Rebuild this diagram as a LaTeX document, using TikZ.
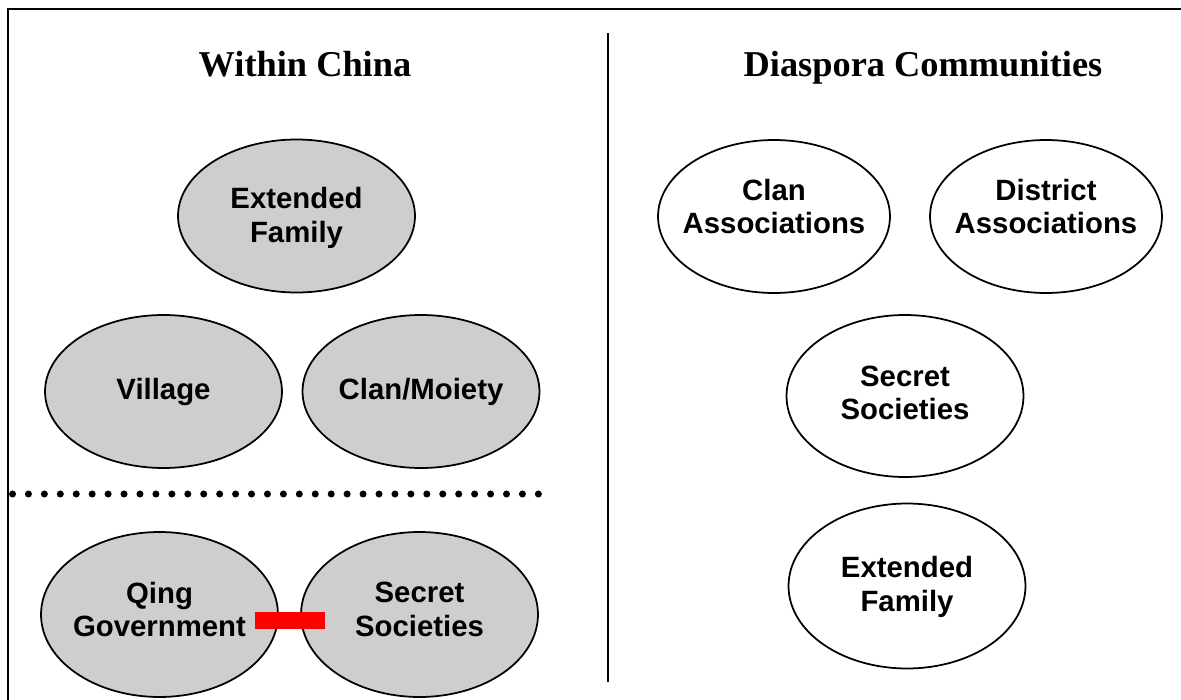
\documentclass[tikz,border=0pt]{standalone}
\usepackage{fontspec}
\setmainfont{Liberation Serif}
\newfontfamily\arialf{Liberation Sans}
\usetikzlibrary{shapes.geometric}
\definecolor{ellgray}{RGB}{206,206,206}
\begin{document}
\begin{tikzpicture}[x=0.02cm,y=-0.02cm,
  ell/.style={ellipse, draw=black, line width=1pt, inner sep=0pt,
    minimum width=4.74cm, minimum height=3.06cm},
  inside/.style={ell, fill=ellgray},
  outside/.style={ell, fill=white},
  ltext/.style={align=center, inner sep=0pt,
    font=\arialf\bfseries\fontsize{16.7}{19}\selectfont},
  title/.style={anchor=base, inner sep=0pt,
    font=\bfseries\fontsize{20.7}{24}\selectfont},
  frame/.style={line width=1.5pt},
  redbar/.style={draw=red, line width=9.4pt, line cap=butt},
  dotline/.style={line width=4pt, line cap=round, dash pattern=on 0pt off 9.07pt}]
\useasboundingbox (0,0) rectangle (1181,700);
% frame and divider
\coordinate (tr) at (1181,9);
\coordinate (tl) at (8,9);
\coordinate (bl) at (8,700);
\draw[frame] (tr) -- (tl) -- (bl);
\coordinate (vt) at (608,33);
\coordinate (vb) at (608,682);
\draw[frame] (vt) -- (vb);
% titles
\node[title] (t1) at (305,76) {Within China};
\node[title] (t2) at (923,76) {Diaspora Communities};
% left side
\node[inside] (ef) at (296.5,216) {};
\node[ltext] (ef-t) at ([yshift=-0.04cm]ef.center) {Extended\\Family};
\node[inside] (vil) at (163.5,391.5) {};
\node[ltext] (vil-t) at (vil.center) {Village};
\node[inside] (clan) at (421,391.5) {};
\node[ltext] (clan-t) at (clan.center) {Clan/Moiety};
\coordinate (d1) at (12.5,494);
\coordinate (d2) at (543,494);
\draw[dotline] (d1) -- (d2);
\node[inside, minimum height=3.3cm] (qing) at (159.5,614.5) {};
\node[ltext] (qing-t) at ([yshift=0.1cm]qing.center) {Qing\\Government};
\node[inside, minimum height=3.3cm] (ss) at (419.5,614.5) {};
\node[ltext] (ss-t) at ([yshift=0.1cm]ss.center) {Secret\\Societies};
\draw[redbar] ([xshift=-0.48cm,yshift=-0.12cm]qing.east) -- ([xshift=0.5cm,yshift=-0.12cm]ss.west);
% right side
\node[outside, minimum width=4.64cm] (ca) at (774,216.5) {};
\node[ltext] (ca-t) at ([yshift=0.2cm]ca.center) {Clan\\Associations};
\node[outside, minimum width=4.64cm] (da) at (1046,216.5) {};
\node[ltext] (da-t) at ([yshift=0.2cm]da.center) {District\\Associations};
\node[outside, minimum height=3.24cm] (ss2) at (905,396) {};
\node[ltext] (ss2-t) at ([yshift=0.06cm]ss2.center) {Secret\\Societies};
\node[outside, minimum height=3.3cm] (ef2) at (907,586) {};
\node[ltext] (ef2-t) at ([yshift=-0.02cm]ef2.center) {Extended\\Family};
\end{tikzpicture}
\end{document}
